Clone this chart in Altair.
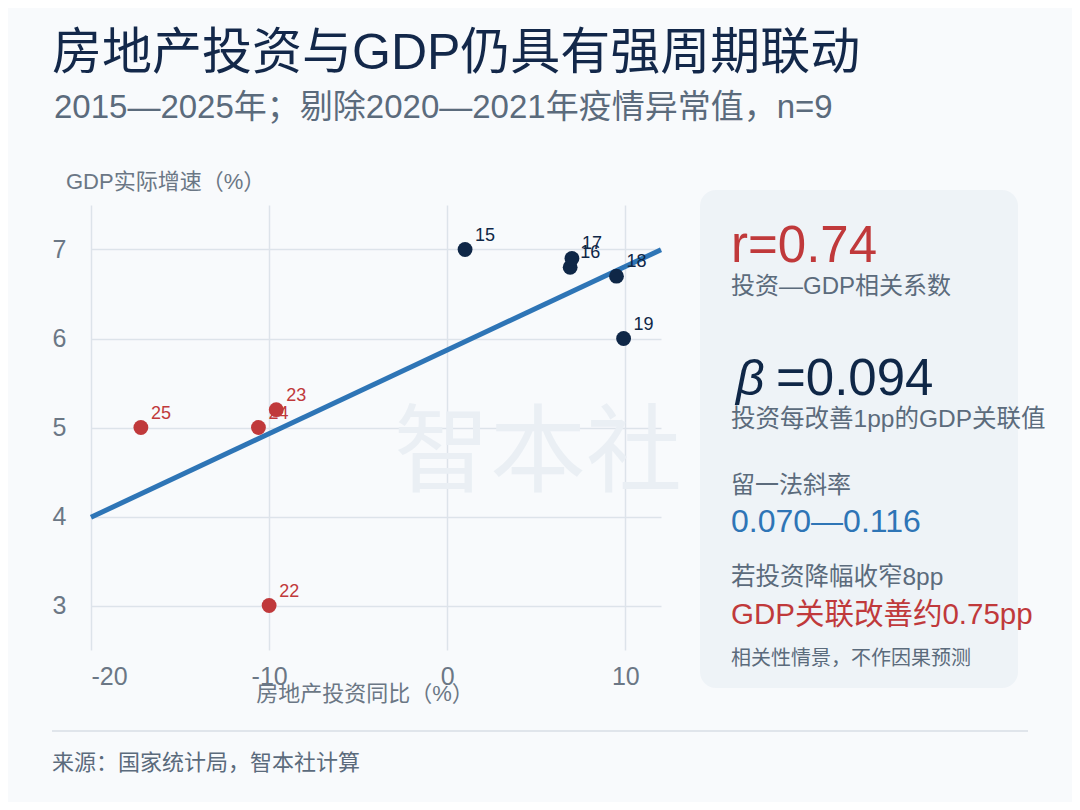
import altair as alt
import pandas as pd

# ---- data ----
years = ["15", "16", "17", "18", "19", "22", "23", "24", "25"]
invest = [1.0, 6.9, 7.0, 9.5, 9.9, -10.0, -9.6, -10.6, -17.2]
gdp = [7.0, 6.8, 6.9, 6.7, 6.0, 3.0, 5.2, 5.0, 5.0]
period = ["前", "前", "前", "前", "前", "后", "后", "后", "后"]

x_ticks = [-20, -10, 0, 10]
y_ticks = [3, 4, 5, 6, 7]

df = pd.DataFrame({"year": years, "inv": invest, "gdp": gdp, "period": period})

FONT = "Liberation Sans, Noto Sans CJK SC"
NAVY = "#0f2747"
RED = "#c0393b"
BLUE = "#2e75b6"
GRAY = "#5b6b7c"
TICK = "#6b7785"

W, H = 570, 445

xs = alt.Scale(domain=[-20, 12], nice=False, zero=False)
ys = alt.Scale(domain=[2.5, 7.5], nice=False, zero=False)
color = alt.Scale(domain=["前", "后"], range=[NAVY, RED])

X = alt.X("inv:Q", scale=xs, title=None,
          axis=alt.Axis(values=x_ticks, labelPadding=14, labelExpr="datum.value + ''"))
Y = alt.Y("gdp:Q", scale=ys, title=None,
          axis=alt.Axis(values=y_ticks, labelPadding=25, labelExpr="datum.value + ''"))

base = alt.Chart(df)

line = base.transform_regression("inv", "gdp", extent=[-20, 12]).mark_line(
    color=BLUE, strokeWidth=5
).encode(x=alt.X("inv:Q", scale=xs), y=alt.Y("gdp:Q", scale=ys))

labels = base.mark_text(align="left", baseline="alphabetic", dx=10, dy=-9,
                        fontSize=18, font=FONT).encode(
    x=X, y=Y, text="year:N",
    color=alt.Color("period:N", scale=color, legend=None),
)

points = base.mark_circle(size=220, opacity=1).encode(
    x=X, y=Y,
    color=alt.Color("period:N", scale=color, legend=None),
)


def txt(s, x, y, size, col, baseline="middle", align="left", style="normal"):
    return alt.Chart(pd.DataFrame({"t": [s]})).mark_text(
        align=align, baseline=baseline, fontSize=size, color=col, font=FONT,
        fontStyle=style,
    ).encode(x=alt.value(x), y=alt.value(y), text="t:N")


panel = alt.Chart(pd.DataFrame({"a": [0]})).mark_rect(
    fill="#eef3f7", cornerRadius=16
).encode(x=alt.value(609), x2=alt.value(927), y=alt.value(-15), y2=alt.value(483))

footer_rule = alt.Chart(pd.DataFrame({"a": [0]})).mark_rule(
    color="#d8dee6", strokeWidth=1.5
).encode(x=alt.value(-39), x2=alt.value(937), y=alt.value(526))

watermark = txt("智本社", 447, 250, 96, "#eaeff4", align="center")

texts = [
    txt("房地产投资与GDP仍具有强周期联动", -39, -151, 50, "#13284a"),
    txt("2015—2025年；剔除2020—2021年疫情异常值，n=9", -37, -97, 33, GRAY),
    txt("GDP实际增速（%）", -25, -23, 22, TICK),
    txt("房地产投资同比（%）", 274, 489, 22, TICK, align="center"),
    txt("来源：国家统计局，智本社计算", -39, 558, 22, GRAY),
    txt("r=0.74", 640, 57, 51, RED, baseline="alphabetic"),
    txt("投资—GDP相关系数", 640, 82, 24, GRAY),
    txt("β", 645, 190, 50, NAVY, baseline="alphabetic", style="italic"),
    txt("=0.094", 685, 190, 51, NAVY, baseline="alphabetic"),
    txt("投资每改善1pp的GDP关联值", 640, 215, 24.5, GRAY),
    txt("留一法斜率", 640, 281, 24, GRAY),
    txt("0.070—0.116", 640, 327, 32, BLUE, baseline="alphabetic"),
    txt("若投资降幅收窄8pp", 640, 373, 24.5, GRAY),
    txt("GDP关联改善约0.75pp", 640, 410, 29.5, RED),
    txt("相关性情景，不作因果预测", 640, 454, 20, GRAY),
]

chart = alt.layer(panel, watermark, line, labels, points, footer_rule, *texts).properties(
    width=W, height=H,
    padding={"left": 83, "top": 197, "right": 411, "bottom": 152},
    autosize=alt.AutoSizeParams(type="none"),
    background="#f8fafc",
).configure_view(stroke=None).configure_axis(
    domain=False, ticks=False, grid=True, gridColor="#dde3ea", gridWidth=1.5,
    labelFont=FONT, labelFontSize=25, labelColor=TICK,
)

chart.save("out.html", embed_options={"renderer": "svg", "actions": False})
